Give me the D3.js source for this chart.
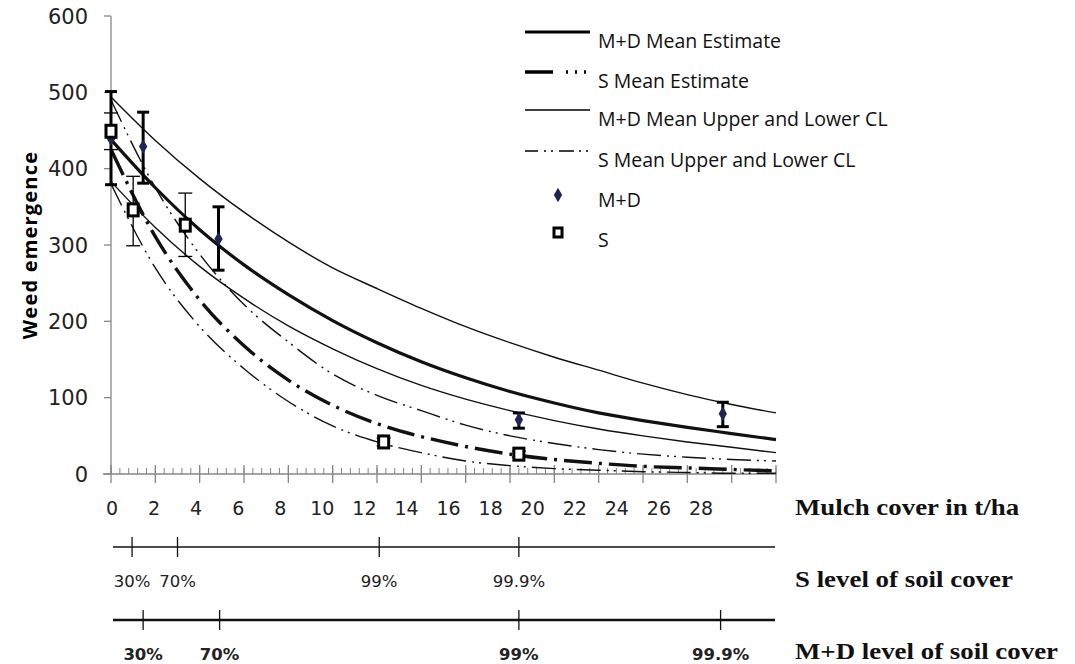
<!DOCTYPE html>
<meta charset="utf-8">
<script src="https://d3js.org/d3.v7.min.js"></script>
<style>
body { margin: 0; background: #fff; }
</style>
<div id="chart"></div>
<script>

// mulch cover (t/ha) where the curves were read
var mulch = [0, 2, 4, 6, 8, 10, 12, 14, 16, 18, 20, 22, 24, 26, 28, 30];

// curve values
var mdMean  = [438, 375, 320, 274, 235, 201, 172, 147, 126, 108, 93, 80, 70, 61, 53, 45];
var mdUpper = [494, 437, 387, 343, 304, 270, 243, 217, 193, 172, 153, 136, 119, 104, 91, 80];
var mdLower = [383, 323, 272, 230, 194, 164, 138, 116, 98, 83, 70, 59, 50, 42, 35, 28];
var sMean   = [425, 311, 228, 168, 123, 90, 66, 49, 36, 26, 19, 14, 10, 8, 6, 4];
var sUpper  = [490, 375, 288, 222, 173, 131, 103, 83, 64, 50, 40, 32, 26, 22, 19, 17];
var sLower  = [380, 270, 193, 138, 95, 63, 42, 28, 17, 11, 7, 5, 3, 2, 1, 1];

// observed points with error bars
var mdX  = [0, 1.45, 4.85, 18.4, 27.6];
var mdY  = [439, 429, 308, 71, 79];
var mdLo = [379, 381, 267, 60, 62];
var mdHi = [501, 474, 350, 80, 94];

var sX  = [0, 1.0, 3.35, 12.3, 18.4];
var sY  = [449, 346, 326, 42, 26];
var sLo = [425, 299, 285, 37, 22];
var sHi = [473, 390, 368, 47, 30];

// axes
var yTicks = [0, 100, 200, 300, 400, 500, 600];
var xMajor = d3.range(0, 31, 2);
var xMinor = d3.range(0, 30.01, 0.4);
var xLabels = [0, 2, 4, 6, 8, 10, 12, 14, 16, 18, 20, 22, 24, 26, 28];

// soil cover levels on the two extra axes
var coverLabels = ["30%", "70%", "99%", "99.9%"];
var sCoverAt  = [0.95, 3.0, 12.1, 18.4];
var mdCoverAt = [1.45, 4.9, 18.4, 27.5];

var legendNames = ["M+D Mean Estimate", "S Mean Estimate", "M+D Mean Upper  and Lower CL",
                   "S Mean Upper and Lower CL", "M+D", "S"];

var W = 1075, H = 664;
var svg = d3.select("#chart").append("svg")
  .attr("width", W).attr("height", H);

var x = d3.scaleLinear().domain([0, 30]).range([111, 776]);
var y = d3.scaleLinear().domain([0, 600]).range([474, 16]);
// the "0 2 4 ... 28" row is set a little tighter than the ticks
var xl = d3.scaleLinear().domain([0, 28]).range([112, 701]);

var axisCol = "#868686";

// y axis
svg.append("line").attr("x1", x(0)).attr("x2", x(0))
  .attr("y1", y(600)).attr("y2", y(0))
  .attr("stroke", axisCol).attr("stroke-width", 1.3);
svg.selectAll(".ytick").data(yTicks).enter().append("line")
  .attr("x1", x(0) - 7).attr("x2", x(0))
  .attr("y1", d => y(d)).attr("y2", d => y(d))
  .attr("stroke", axisCol).attr("stroke-width", 1.3);
svg.selectAll(".ylab").data(yTicks).enter().append("text")
  .attr("x", 88).attr("y", d => y(d) + 7.5)
  .attr("text-anchor", "end")
  .style("font", "21px 'DejaVu Sans'").style("fill", "#222")
  .text(d => d);

// x axis
svg.append("line").attr("x1", x(0) - 8).attr("x2", x(30))
  .attr("y1", y(0)).attr("y2", y(0))
  .attr("stroke", axisCol).attr("stroke-width", 1.3);
svg.selectAll(".xminor").data(xMinor).enter().append("line")
  .attr("x1", d => x(d)).attr("x2", d => x(d))
  .attr("y1", y(0) - 6).attr("y2", y(0))
  .attr("stroke", axisCol).attr("stroke-width", 1);
svg.selectAll(".xmajor").data(xMajor).enter().append("line")
  .attr("x1", d => x(d)).attr("x2", d => x(d))
  .attr("y1", y(0) - 9).attr("y2", y(0) + 9)
  .attr("stroke", axisCol).attr("stroke-width", 1.3);
svg.selectAll(".xlab").data(xLabels).enter().append("text")
  .attr("x", d => xl(d)).attr("y", 515)
  .attr("text-anchor", "middle")
  .style("font", "19px 'DejaVu Sans'").style("fill", "#222")
  .text(d => d);

// y title
svg.append("text")
  .attr("transform", "translate(37,245) rotate(-90)")
  .attr("text-anchor", "middle")
  .style("font", "bold 20px 'Open Sans'").style("letter-spacing", "1.2px")
  .text("Weed emergence");

// curves
var line = d3.line()
  .x((d, i) => x(mulch[i]))
  .y(d => y(d))
  .curve(d3.curveMonotoneX);

function curve(vals, width, dash) {
  svg.append("path").datum(vals)
    .attr("d", line)
    .attr("fill", "none")
    .attr("stroke", "#111")
    .attr("stroke-width", width)
    .attr("stroke-dasharray", dash);
}
curve(mdUpper, 1.4, null);
curve(mdLower, 1.4, null);
curve(sUpper, 1.4, "24,6,2,5,2,6");
curve(sLower, 1.4, "24,6,2,5,2,6");
curve(mdMean, 3.2, null);
curve(sMean, 3.4, "28,7,3,7");

// error bars
function errBars(xs, lo, hi, width, cap) {
  var g = svg.append("g").attr("stroke", "#000").attr("stroke-width", width);
  xs.forEach(function(v, i) {
    g.append("line").attr("x1", x(v)).attr("x2", x(v)).attr("y1", y(lo[i])).attr("y2", y(hi[i]));
    g.append("line").attr("x1", x(v) - cap).attr("x2", x(v) + cap).attr("y1", y(lo[i])).attr("y2", y(lo[i]));
    g.append("line").attr("x1", x(v) - cap).attr("x2", x(v) + cap).attr("y1", y(hi[i])).attr("y2", y(hi[i]));
  });
}
errBars(sX, sLo, sHi, 1.3, 7);
errBars(mdX, mdLo, mdHi, 3, 6);

// points
var diamond = d3.symbol().type(d3.symbolDiamond).size(60);
svg.selectAll(".md").data(mdX).enter().append("path")
  .attr("d", diamond)
  .attr("transform", (d, i) => "translate(" + x(d) + "," + y(mdY[i]) + ")")
  .attr("fill", "#1d2656");
svg.selectAll(".s").data(sX).enter().append("rect")
  .attr("x", d => x(d) - 5).attr("y", (d, i) => y(sY[i]) - 6)
  .attr("width", 10).attr("height", 12)
  .attr("fill", "#fff").attr("stroke", "#000").attr("stroke-width", 3);

// lower soil cover axes
function coverAxis(at, yy, width, bold) {
  svg.append("line").attr("x1", 113).attr("x2", 775)
    .attr("y1", yy).attr("y2", yy)
    .attr("stroke", "#111").attr("stroke-width", width);
  svg.selectAll(null).data(at).enter().append("line")
    .attr("x1", d => x(d)).attr("x2", d => x(d))
    .attr("y1", yy - 10).attr("y2", yy + 10)
    .attr("stroke", "#111").attr("stroke-width", 1.3);
  svg.selectAll(null).data(at).enter().append("text")
    .attr("x", d => x(d)).attr("y", yy + 40)
    .attr("text-anchor", "middle")
    .style("font", (bold ? "bold " : "") + "16.5px 'DejaVu Sans'").style("fill", "#222")
    .text((d, i) => coverLabels[i]);
}
coverAxis(sCoverAt, 547, 1.6, false);
coverAxis(mdCoverAt, 620, 2.6, true);

// right titles, drawn a bit wider than the font to match the original
var titles = ["Mulch cover in t/ha", "S level of soil cover", "M+D level of soil cover"];
svg.selectAll(".rt").data(titles).enter().append("text")
  .attr("transform", (d, i) => "translate(795," + (515 + i * 72) + ") scale(1.12,1)")
  .style("font", "bold 24px 'Liberation Serif'").style("fill", "#111")
  .text(d => d);

// legend
var lg = svg.append("g");
var rowY = [48, 88, 126, 167, 207, 247];
lg.selectAll("text").data(legendNames).enter().append("text")
  .attr("x", 598).attr("y", (d, i) => rowY[i])
  .style("font", "19.5px 'Open Sans'").style("fill", "#111")
  .text(d => d);
var lgLines = [[3, null], [3.4, "28,13,2,7,2,7,2"], [1.4, null], [1.6, "13,6,2,5,2,6,15,5,2,5,2"]];
lgLines.forEach(function(s, i) {
  lg.append("line").attr("x1", 525).attr("x2", 590)
    .attr("y1", rowY[i] - 16).attr("y2", rowY[i] - 16)
    .attr("stroke", "#000").attr("stroke-width", s[0])
    .attr("stroke-dasharray", s[1]);
});
lg.append("path").attr("d", diamond)
  .attr("transform", "translate(558," + (rowY[4] - 12) + ")")
  .attr("fill", "#1d2656");
lg.append("rect").attr("x", 554).attr("y", rowY[5] - 19)
  .attr("width", 8).attr("height", 9)
  .attr("fill", "#fff").attr("stroke", "#000").attr("stroke-width", 3);

</script>
